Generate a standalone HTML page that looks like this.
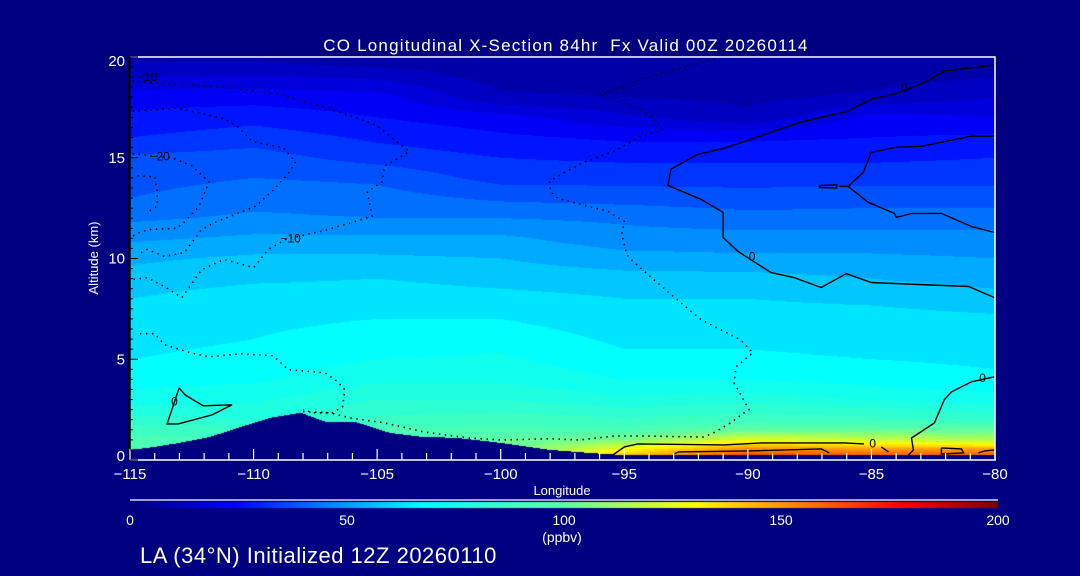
<!DOCTYPE html>
<html><head><meta charset="utf-8">
<style>
html,body{margin:0;padding:0;background:#000080;}
#wrap{position:relative;width:1080px;height:576px;overflow:hidden;background:#000080;font-family:"Liberation Sans",sans-serif;}
canvas,svg{position:absolute;left:0;top:0;}
</style></head>
<body>
<div id="wrap">
<canvas id="cv" width="1080" height="576"></canvas>
<svg id="sv" width="1080" height="576" xmlns="http://www.w3.org/2000/svg"></svg>
</div>
<script>
// ---- data ----
const lons = [-115,-110,-105,-100,-95,-90,-85,-80];
const alts = [0.25,0.5,1,1.5,2,3,4,5,6,7,8,9,10,11,12,13,14,15,16,17,18,19,20];
const row025 = [92,88,88,96,140,165,160,160];
const row05  = [92,88,90,100,130,155,150,150];
const row1   = [92,90,92,100,105,125,120,115];
const row15  = [88,88,92,92,92,100,100,100];
const row2   = [82,80,86,88,86,88,87,85];
const row3   = [72,74,80,80,76,78,75,72];
const row4   = [68,69,74,74,70,70,68,66];
const row5   = [65,67,70,71,66,66,65,64];
const row6   = [63,65,67,68,64,64,63,63];
const row7   = [62,64,65,65,62,62,62,61];
const row8   = [60,63,63,62,60,60,59,57];
const row9   = [57,59,60,58,57,57,55,53];
const row10  = [54,56,56,55,52,51,51,50];
const row11  = [49,51,51,51,47,47,47,47];
const row12  = [44,46,45,45,44,42,42,42];
const row13  = [40,43,42,39,38,37,38,38];
const row14  = [38,40,39,33,33,33,33,33];
const row15k = [36,37,33,30,29,29,29,30];
const row16  = [30,33,29,26,24,24,25,26];
const row17  = [26,28,25,22,16,11,22,20];
const row18  = [23,23,22,11,10,9,11,15];
const row19  = [15,16,14,8,7,7,8,10];
const row20  = [8,8,6,6,6,6,7,8];
const field = [row025,row05,row1,row15,row2,row3,row4,row5,row6,row7,row8,row9,row10,row11,row12,row13,row14,row15k,row16,row17,row18,row19,row20];
const terrainLon = [-115,-114,-113,-111.75,-110.5,-109.3,-108.1,-107.1,-105.9,-104.5,-103.2,-101.8,-100,-98,-96.4,-95.1,-80];
const terrainAlt = [0.5,0.65,0.85,1.15,1.65,2.1,2.35,1.9,1.9,1.35,1.15,1.1,0.85,0.5,0.35,0.25,0.25];
const xTicks = [-115,-110,-105,-100,-95,-90,-85,-80];
const yTicks = [0,5,10,15,20];
const cbTicks = [0,50,100,150,200];
// contours [lon, alt]
const cDotA = [[-114.9,18.8],[-111.2,18.5],[-109.1,18.2],[-106.8,17.4],[-105,16.6],[-103.7,15.3],[-104.7,14.6],[-104.8,13.8],[-105.4,13.3],[-105.2,12.1],[-106,11.8],[-107.1,11.4],[-108.7,10.95],[-109.4,10.45],[-110,9.55],[-111.2,9.95],[-112.1,9.45],[-112.9,8.06],[-113.6,8.6],[-114.3,9.05],[-114.9,8.96]];
const cDotB = [[-114.9,17.3],[-113.05,17.46],[-111.15,16.92],[-110.6,16.5],[-110.05,15.8],[-108.8,15.5],[-108.3,14.8],[-108.6,14.2],[-109.2,13.4],[-109.9,12.6],[-111.55,11.8],[-112.1,11.44],[-112.8,10.3],[-113.6,10.1],[-114.3,10.45],[-114.7,10.2]];
const cDotC = [[-114.9,15.2],[-113.3,15.0],[-112.5,14.6],[-111.8,13.8],[-112.2,12.6],[-112.8,11.8],[-113.1,11.5],[-114.2,11.44],[-114.6,11.3],[-114.9,11.1]];
const cDotD = [[-114.7,14.1],[-114,14.05],[-113.9,13.3],[-113.9,12.6],[-114.3,12.3]];
const cDotE = [[-114.6,6.27],[-114,6.27],[-113.6,5.72],[-112.5,5.3],[-111.8,5.12],[-110.5,5.27],[-109.2,5.17],[-108.6,4.48],[-107.6,4.38],[-107.1,4.33],[-106.6,3.88],[-106.3,3.48],[-106.4,2.64],[-106.8,2.34],[-107.6,2.34],[-108.0,2.5]];
const cDotF = [[-108,2.4],[-106.9,2.34],[-106.1,2.09],[-104.7,1.84],[-103.1,1.39],[-101.3,1.09],[-100,1.0],[-98,1.05],[-96.8,1.0],[-95.4,1.19],[-94.3,1.19],[-91.8,1.14],[-91.4,1.34],[-90.7,1.84],[-90.15,2.34],[-89.95,2.5],[-90.56,3.83],[-90.48,4.63],[-89.8,5.32],[-90.3,5.97],[-91.9,6.97],[-93.2,8.31],[-94.6,9.8],[-94.9,10.2],[-95.1,11.2],[-95.0,11.84],[-95.66,12.34],[-96.48,12.59],[-97.69,12.99],[-97.98,13.33],[-98.02,13.83],[-97.57,14.18],[-96.64,14.78],[-95.42,15.32],[-94.33,16.07],[-93.44,16.37],[-93.64,16.77],[-94.45,17.46],[-95.66,17.96],[-95.95,18.11],[-94.2,18.96],[-91.21,19.95]];
const cS1 = [[-80.02,19.6],[-82.05,19.3],[-82.98,18.66],[-84.07,18.16],[-85,17.91],[-85.94,17.31],[-87.84,16.77],[-90.96,15.47],[-92.02,15.17],[-93.11,14.43],[-93.23,13.63],[-91.9,12.94],[-91,12.29],[-91,11.04],[-90.4,10.35],[-89.06,9.3],[-88.13,9.05],[-87.03,8.56],[-86.02,9.25],[-85,8.81],[-83.1,8.71],[-81.07,8.61],[-80.02,8.06]];
const cS2 = [[-80.02,16.07],[-80.95,16.07],[-82.98,15.57],[-84,15.52],[-85,15.27],[-85.33,14.28],[-85.94,13.58],[-85.13,12.79],[-84.07,12.24],[-83.99,12.04],[-83.38,12.24],[-82.17,12.24],[-80.95,11.59],[-80.02,11.29]];
const cS2b = [[-85.94,13.58],[-86.3,13.58]];
const cBlob = [[-87.1,13.62],[-86.4,13.66],[-86.4,13.5],[-87.1,13.52],[-87.1,13.62]];
const cS3 = [[-80.02,4.13],[-80.95,3.88],[-81.76,3.38],[-82.05,2.99],[-82.45,1.84],[-83.38,1.09],[-83.3,0.5],[-83.5,0.25]];
const cS4 = [[-95.46,0.25],[-95.0,0.65],[-94.45,0.8],[-90.96,0.75],[-89.46,0.85],[-86.1,0.85],[-85.3,0.8]];
const cS4b = [[-84.6,0.65],[-84.31,0.4]];
const cS5 = [[-92.99,0.3],[-92.8,0.4],[-89.95,0.45],[-87.03,0.55],[-86.71,0.35]];
const cS6 = [[-82.17,0.6],[-81.36,0.55],[-81.27,0.35],[-82.17,0.3],[-82.17,0.6]];
const cS7 = [[-80.67,0.35],[-80.42,0.45],[-80.02,0.5]];
const cTri = [[-113.01,3.58],[-112.77,3.23],[-112.04,2.69],[-110.87,2.74],[-111.68,2.24],[-113.05,1.79],[-113.5,1.79],[-113.2,2.89],[-113.01,3.58]];
const contourLabels = [["−10",-114.3,19.0],["−20",-113.8,15.07],["−10",-108.5,11.0],["0",-83.67,18.46],["0",-89.83,10.1],["0",-80.5,4.08],["0",-84.95,0.82],["0",-113.2,2.9]];

// ---- axes ----
const X0=130, X1=995, Y0=460, Y1=57;
const xS = lon => X0 + (lon - (-115)) / 35 * (X1 - X0);
const yS = a => Y0 - a / 20 * (Y0 - Y1);
const xInv = px => -115 + (px - X0) / (X1 - X0) * 35;
const yInv = py => (Y0 - py) / (Y0 - Y1) * 20;
const CB0=130, CB1=998;
const cbS = v => CB0 + v / 200 * (CB1 - CB0);

const stops = [[0,[0,0,128]],[24,[0,0,255]],[45,[0,128,255]],[67,[0,255,255]],[100,[96,255,160]],[130,[255,255,0]],[150,[255,150,0]],[178,[255,0,0]],[200,[128,0,0]]];
function cmap(v){
  v=Math.max(0,Math.min(200,v));
  for(let i=0;i<stops.length-1;i++){
    const [a,ca]=stops[i],[b,cb]=stops[i+1];
    if(v<=b){const t=(v-a)/(b-a);return ca.map((c,k)=>Math.round(c+(cb[k]-c)*t));}
  }
  return stops[stops.length-1][1];
}
function interp1(xs,ys,x){
  if(x<=xs[0])return ys[0];
  for(let i=0;i<xs.length-1;i++){ if(x<=xs[i+1]){const t=(x-xs[i])/(xs[i+1]-xs[i]);return ys[i]+(ys[i+1]-ys[i])*t;} }
  return ys[ys.length-1];
}
function val(lon,a){
  let j=0; while(j<lons.length-2 && lon>lons[j+1]) j++;
  const tx=Math.max(0,Math.min(1,(lon-lons[j])/(lons[j+1]-lons[j])));
  let i=0; while(i<alts.length-2 && a>alts[i+1]) i++;
  const ty=Math.max(0,Math.min(1,(a-alts[i])/(alts[i+1]-alts[i])));
  const v00=field[i][j],v01=field[i][j+1],v10=field[i+1][j],v11=field[i+1][j+1];
  return (v00*(1-tx)+v01*tx)*(1-ty)+(v10*(1-tx)+v11*tx)*ty;
}

// ---- field on canvas ----
const cv=document.getElementById('cv'),ctx=cv.getContext('2d');
ctx.fillStyle='#000080';ctx.fillRect(0,0,1080,576);
const img=ctx.createImageData(X1-X0,Y0-Y1);
for(let py=Y1;py<Y0;py++){
  const a=yInv(py+0.5);
  for(let px=X0;px<X1;px++){
    const lon=xInv(px+0.5);
    const terr=interp1(terrainLon,terrainAlt,lon);
    let c;
    if(a<terr||a<0.25){c=[0,0,128];}
    else{const v=val(lon,a);c=cmap(Math.floor(v/5)*5+2.5);}
    const k=((py-Y1)*(X1-X0)+(px-X0))*4;
    img.data[k]=c[0];img.data[k+1]=c[1];img.data[k+2]=c[2];img.data[k+3]=255;
  }
}
ctx.putImageData(img,X0,Y1);
// colorbar
for(let px=CB0;px<CB1;px++){
  const v=(px-CB0)/(CB1-CB0)*200;const c=cmap(v);
  ctx.fillStyle=`rgb(${c[0]},${c[1]},${c[2]})`;ctx.fillRect(px,502,1,6);
}

// ---- svg overlay ----
const NS='http://www.w3.org/2000/svg';
const sv=document.getElementById('sv');
function mk(tag,attrs,parent){const e=document.createElementNS(NS,tag);for(const k in attrs)e.setAttribute(k,attrs[k]);(parent||sv).appendChild(e);return e;}
function pts(arr){return arr.map(p=>xS(p[0]).toFixed(1)+','+yS(p[1]).toFixed(1)).join(' ');}

const dotted=[cDotA,cDotB,cDotC,cDotD,cDotE,cDotF];
dotted.forEach((c,i)=>{
  const e=mk('polyline',{points:pts(c),fill:'none',stroke:'#000','stroke-width':'1.6','stroke-dasharray':'1.5 4.5'});
  
  
});
const solid=[cS1,cS2,cS2b,cBlob,cS3,cS4,cS4b,cS5,cS6,cS7,cTri];
solid.forEach((c,i)=>{
  const e=mk('polyline',{points:pts(c),fill:'none',stroke:'#000','stroke-width':'1.4'});
  
  
});
contourLabels.forEach(l=>{
  const t=mk('text',{x:xS(l[1]),y:yS(l[2])+4,'font-size':'12','text-anchor':'middle',fill:'#000','font-family':'Liberation Sans, sans-serif'});
  t.textContent=l[0];
  
  
});

// frame
const fr=mk('polyline',{points:`${X0},${Y1} ${X1},${Y1} ${X1},${Y0}`,fill:'none',stroke:'#fff','stroke-width':'1.5'});


const xa=mk('line',{x1:X0,y1:Y0,x2:X1+1,y2:Y0,stroke:'#fff','stroke-width':'1.5'});


const ya=mk('line',{x1:X0-0.5,y1:Y1,x2:X0-0.5,y2:Y0,stroke:'#000','stroke-width':'2.5'});


for(let l=-115;l<=-80;l++){
  const major=xTicks.includes(l);
  const t=mk('line',{x1:xS(l),y1:Y0,x2:xS(l),y2:Y0-(major?11:7),stroke:'#fff','stroke-width':'1.2'});
  
  
}
for(let a=0;a<=20;a+=0.5){
  const major=yTicks.includes(a);
  const t=mk('line',{x1:X0,y1:yS(a),x2:X0+(major?8:3),y2:yS(a),stroke:'#000','stroke-width':'1'});
  
  
}
xTicks.forEach(l=>{
  const t=mk('text',{x:xS(l),y:479,'font-size':'15','text-anchor':'middle',fill:'#fff'});
  t.textContent=String(l).replace('-','−');
  
  
});
yTicks.forEach(a=>{
  const t=mk('text',{x:125,y:yS(a)+5-(a===0?4:0)+(a===20?4:0),'font-size':'15','text-anchor':'end',fill:'#fff'});
  t.textContent=String(a);
  
  
});
const cbl=mk('line',{x1:CB0,y1:500,x2:CB1,y2:500,stroke:'#fff','stroke-width':'1.3'});


cbTicks.forEach(v=>{
  const t=mk('text',{x:cbS(v),y:525,'font-size':'14','text-anchor':'middle',fill:'#fff'});
  t.textContent=String(v);
  
  
});
</script>
<svg width="1080" height="576" style="position:absolute;left:0;top:0;pointer-events:none">
<text x="566" y="51" font-size="17" letter-spacing="1.2" text-anchor="middle" fill="#fff" font-family="Liberation Sans, sans-serif">CO Longitudinal X-Section 84hr&#160; Fx Valid 00Z 20260114</text>
<text x="562" y="495" font-size="13" text-anchor="middle" fill="#fff" font-family="Liberation Sans, sans-serif">Longitude</text>
<text transform="translate(98,258) rotate(-90)" font-size="13" text-anchor="middle" fill="#fff" font-family="Liberation Sans, sans-serif">Altitude (km)</text>
<text x="562" y="542" font-size="14" text-anchor="middle" fill="#fff" font-family="Liberation Sans, sans-serif">(ppbv)</text>
<text x="140" y="563" font-size="22" letter-spacing="0.5" fill="#fff" font-family="Liberation Sans, sans-serif">LA (34°N) Initialized 12Z 20260110</text>
</svg>
</body></html>
